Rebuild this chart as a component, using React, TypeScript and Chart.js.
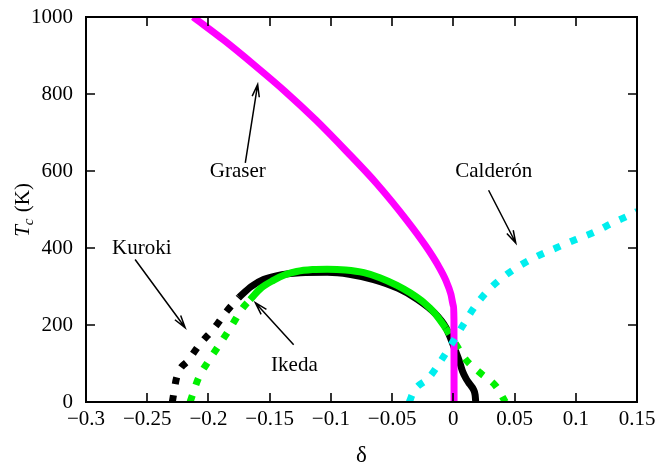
import React, { useEffect, useRef } from "react";
import { Chart, registerables } from "chart.js";

Chart.register(...registerables);

// ---- axis ticks ----
const xTicks = [-0.3, -0.25, -0.2, -0.15, -0.1, -0.05, 0, 0.05, 0.1, 0.15];
const xTickLabels = ["\u22120.3", "\u22120.25", "\u22120.2", "\u22120.15", "\u22120.1", "\u22120.05", "0", "0.05", "0.1", "0.15"];
const yTicks = [0, 200, 400, 600, 800, 1000];
const yTickLabels = ["0", "200", "400", "600", "800", "1000"];

// ---- Graser (magenta, solid) ----
const graserX = [-0.2125, -0.1875, -0.1625, -0.1375, -0.1125, -0.0875, -0.0625, -0.0375, -0.0225, -0.0125, -0.006, -0.002, 0.0, 0.0005, 0.0006];
const graserY = [1000, 940, 875, 807, 733, 652, 567, 470, 405, 355, 315, 280, 250, 215, 0];

// ---- Kuroki (black) ----
const kurokiDotX = [-0.2295, -0.226, -0.216, -0.207, -0.195, -0.185, -0.175];
const kurokiDotY = [0, 63, 110, 150, 193, 236, 272];
const kurokiSolidX = [-0.175, -0.165, -0.155, -0.14, -0.125, -0.103, -0.085, -0.065, -0.045, -0.03, -0.015, -0.006, -0.0022, 0.0015, 0.0047, 0.0075, 0.0105, 0.0135, 0.0165, 0.0178, 0.0183];
const kurokiSolidY = [272, 300, 318, 331, 336, 337, 332, 318, 295, 268, 230, 193, 165, 135, 108, 80, 60, 46, 32, 18, 0];

// ---- Ikeda (green) ----
const ikedaDot1X = [-0.215, -0.208, -0.2, -0.19, -0.182, -0.173, -0.166];
const ikedaDot1Y = [0, 63, 106, 154, 193, 240, 266];
const ikedaSolidX = [-0.166, -0.157, -0.147, -0.137, -0.128, -0.115, -0.103, -0.088, -0.073, -0.06, -0.046, -0.035, -0.024, -0.015, -0.0063];
const ikedaSolidY = [266, 296, 316, 331, 339, 344, 345, 343, 336, 323, 303, 283, 258, 230, 192];
const ikedaDot2X = [-0.0063, 0.002, 0.0102, 0.0217, 0.0348, 0.0425];
const ikedaDot2Y = [192, 150, 110, 76, 41, 0];

// ---- Calderón (cyan, dotted) ----
const calderonX = [-0.036, -0.0323, -0.02, -0.0104, -0.0008, 0.0074, 0.0169, 0.0278, 0.0401, 0.0537, 0.0687, 0.0838, 0.1001, 0.115, 0.13, 0.1451, 0.15];
const calderonY = [0, 28, 63, 106, 154, 197, 245, 288, 323, 353, 379, 400, 422, 441, 465, 487, 495];

// ---- annotation labels (data coords) ----
const labelTexts = ["Graser", "Calder\u00f3n", "Kuroki", "Ikeda"];
const labelX = [-0.176, 0.033, -0.2544, -0.1298];
const labelY = [598, 598, 399, 95];
// arrows: tail -> head (data coords)
const arrowFromX = [-0.1699, 0.0288, -0.2599, -0.1304];
const arrowFromY = [621, 550, 370, 149];
const arrowToX = [-0.1598, 0.051, -0.219, -0.1617];
const arrowToY = [825, 413, 193, 258];

const pts = (xs: number[], ys: number[]) => xs.map((x, i) => ({ x, y: ys[i] }));

const SERIF = '"Liberation Serif", "Times New Roman", serif';
const FS = 21;

const decorPlugin = {
  id: "decor",
  afterDatasetsDraw(chart: any) {
    const { ctx, chartArea: a } = chart;
    const xs = chart.scales.x;
    const ys = chart.scales.y;
    ctx.save();
    ctx.strokeStyle = "#000";
    ctx.fillStyle = "#000";
    // inward ticks (mirrored)
    ctx.lineWidth = 1.6;
    const tl = 9;
    ctx.beginPath();
    xTicks.forEach((v) => {
      const px = Math.round(xs.getPixelForValue(v));
      ctx.moveTo(px, a.bottom);
      ctx.lineTo(px, a.bottom - tl);
      ctx.moveTo(px, a.top);
      ctx.lineTo(px, a.top + tl);
    });
    yTicks.forEach((v) => {
      const py = Math.round(ys.getPixelForValue(v));
      ctx.moveTo(a.left, py);
      ctx.lineTo(a.left + tl, py);
      ctx.moveTo(a.right, py);
      ctx.lineTo(a.right - tl, py);
    });
    ctx.stroke();
    // frame
    ctx.lineWidth = 2;
    ctx.strokeRect(a.left, a.top, a.right - a.left, a.bottom - a.top);

    // annotation labels
    ctx.font = `${FS}px ${SERIF}`;
    ctx.textAlign = "center";
    ctx.textBaseline = "middle";
    labelTexts.forEach((t, i) => {
      ctx.fillText(t, xs.getPixelForValue(labelX[i]), ys.getPixelForValue(labelY[i]));
    });

    // arrows
    ctx.lineWidth = 1.5;
    ctx.lineCap = "butt";
    arrowFromX.forEach((_, i) => {
      const x1 = xs.getPixelForValue(arrowFromX[i]);
      const y1 = ys.getPixelForValue(arrowFromY[i]);
      const x2 = xs.getPixelForValue(arrowToX[i]);
      const y2 = ys.getPixelForValue(arrowToY[i]);
      const ang = Math.atan2(y2 - y1, x2 - x1);
      const hl = 13;
      const ha = 0.28;
      ctx.beginPath();
      ctx.moveTo(x1, y1);
      ctx.lineTo(x2, y2);
      ctx.moveTo(x2 - hl * Math.cos(ang - ha), y2 - hl * Math.sin(ang - ha));
      ctx.lineTo(x2, y2);
      ctx.lineTo(x2 - hl * Math.cos(ang + ha), y2 - hl * Math.sin(ang + ha));
      ctx.stroke();
    });

    // y axis title: T_c (K)
    ctx.save();
    ctx.translate(22, 210);
    ctx.rotate(-Math.PI / 2);
    ctx.textAlign = "left";
    ctx.textBaseline = "alphabetic";
    const fT = `italic ${FS}px ${SERIF}`;
    const fc = `italic 15px ${SERIF}`;
    const fK = `${FS}px ${SERIF}`;
    ctx.font = fT;
    const wT = ctx.measureText("T").width;
    ctx.font = fc;
    const wc = ctx.measureText("c").width;
    ctx.font = fK;
    const wK = ctx.measureText(" (K)").width;
    const total = wT + wc + 1 + wK;
    let cx = -total / 2;
    const base = 7;
    ctx.font = fT;
    ctx.fillText("T", cx, base);
    cx += wT;
    ctx.font = fc;
    ctx.fillText("c", cx, base + 4);
    cx += wc + 1;
    ctx.font = fK;
    ctx.fillText(" (K)", cx, base);
    ctx.restore();

    // x axis title
    ctx.font = `23px ${SERIF}`;
    ctx.textAlign = "center";
    ctx.textBaseline = "middle";
    ctx.fillText("\u03b4", (a.left + a.right) / 2, 456);

    ctx.restore();
  },
};

export default function App() {
  const ref = useRef<HTMLCanvasElement | null>(null);
  useEffect(() => {
    if (!ref.current) return;
    const solid = (data: any, color: string) => ({
      data,
      borderColor: color,
      backgroundColor: color,
      borderWidth: 7,
      pointRadius: 0,
      cubicInterpolationMode: "monotone",
      fill: false,
      borderCapStyle: "butt",
      borderJoinStyle: "round",
    });
    const dotted = (data: any, color: string) => ({
      ...solid(data, color),
      borderDash: [7, 11],
      borderJoinStyle: "miter",
    });
    const chart = new Chart(ref.current, {
      type: "line",
      data: {
        datasets: [
          dotted(pts(calderonX, calderonY), "#00eeee") as any,
          solid(pts(graserX, graserY), "#ff00ff") as any,
          dotted(pts(ikedaDot1X, ikedaDot1Y), "#00f000") as any,
          solid(pts(ikedaSolidX, ikedaSolidY), "#00f000") as any,
          dotted(pts(ikedaDot2X, ikedaDot2Y), "#00f000") as any,
          dotted(pts(kurokiDotX, kurokiDotY), "#000000") as any,
          solid(pts(kurokiSolidX, kurokiSolidY), "#000000") as any,
        ],
      },
      options: {
        animation: false,
        responsive: false,
        devicePixelRatio: 1,
        layout: { padding: { top: 17, right: 23, left: 0, bottom: 0 } },
        plugins: { legend: { display: false }, tooltip: { enabled: false } },
        scales: {
          x: {
            type: "linear",
            min: -0.3,
            max: 0.15,
            afterBuildTicks: (s: any) => {
              s.ticks = xTicks.map((v) => ({ value: v }));
            },
            afterFit: (s: any) => {
              s.height = 66;
              s.paddingLeft = 0;
              s.paddingRight = 0;
            },
            ticks: {
              callback: (_v: any, i: number) => xTickLabels[i],
              font: { family: SERIF, size: FS },
              color: "#000",
              padding: 5,
              maxRotation: 0,
              autoSkip: false,
            },
            grid: { display: false, drawTicks: false, tickLength: 0 },
            border: { display: false },
          },
          y: {
            type: "linear",
            min: 0,
            max: 1000,
            afterBuildTicks: (s: any) => {
              s.ticks = yTicks.map((v) => ({ value: v }));
            },
            afterFit: (s: any) => {
              s.width = 86;
              s.paddingTop = 0;
              s.paddingBottom = 0;
            },
            ticks: {
              callback: (_v: any, i: number) => yTickLabels[i],
              font: { family: SERIF, size: FS },
              color: "#000",
              padding: 13,
              autoSkip: false,
            },
            grid: { display: false, drawTicks: false, tickLength: 0 },
            border: { display: false },
          },
        },
      },
      plugins: [decorPlugin],
    });
    return () => chart.destroy();
  }, []);
  return (
    <div style={{ position: "fixed", left: 0, top: 0, width: 660, height: 468, background: "#fff" }}>
      <canvas ref={ref} width={660} height={468} style={{ display: "block" }} />
    </div>
  );
}
